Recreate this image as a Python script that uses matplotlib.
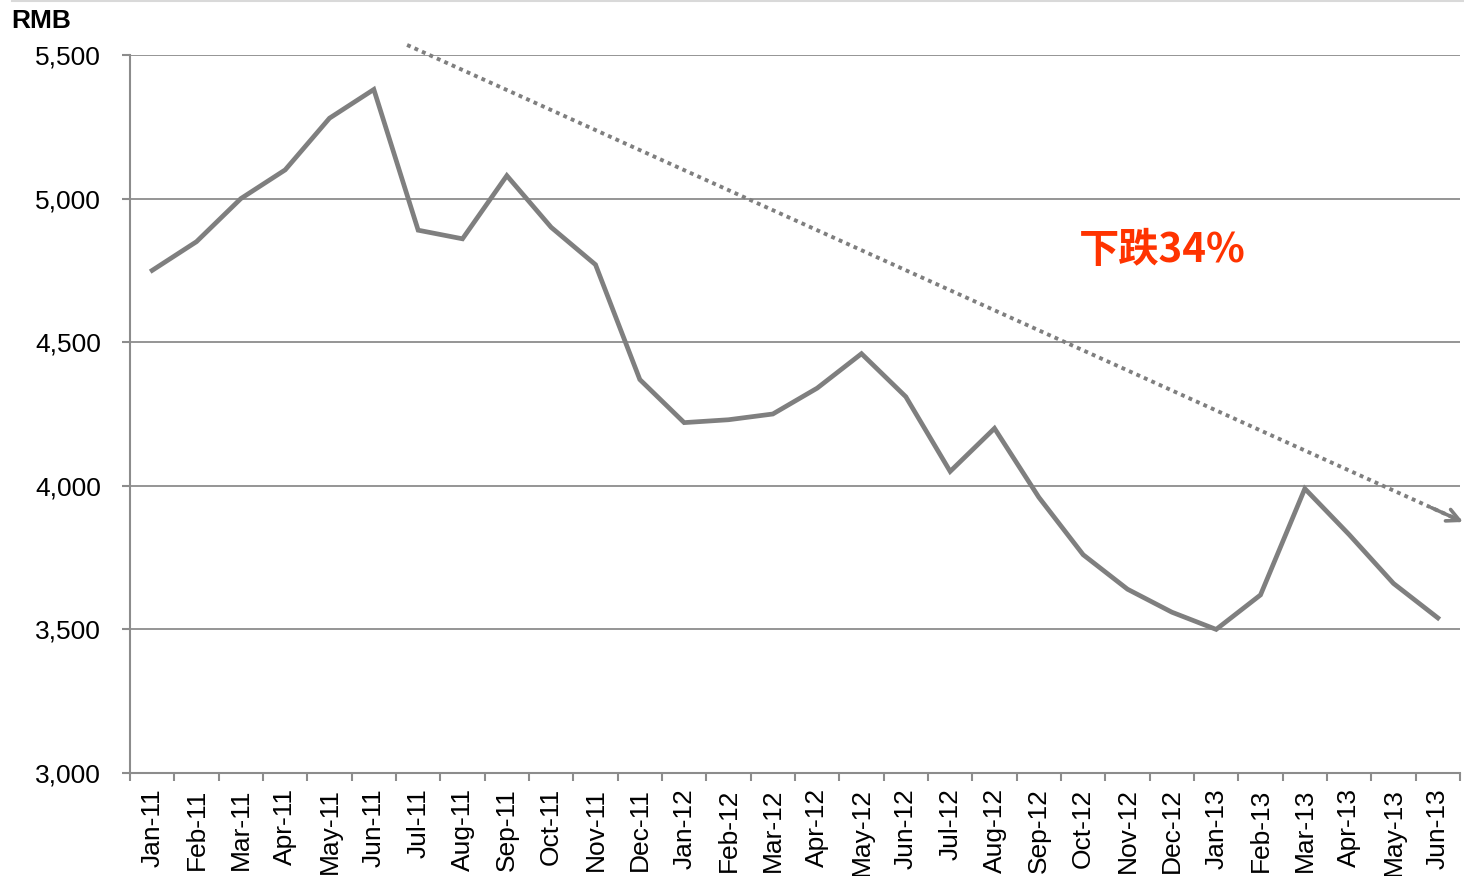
import matplotlib.pyplot as plt
from matplotlib.lines import Line2D

# Monthly price, RMB
months = ["Jan-11", "Feb-11", "Mar-11", "Apr-11", "May-11", "Jun-11",
          "Jul-11", "Aug-11", "Sep-11", "Oct-11", "Nov-11", "Dec-11",
          "Jan-12", "Feb-12", "Mar-12", "Apr-12", "May-12", "Jun-12",
          "Jul-12", "Aug-12", "Sep-12", "Oct-12", "Nov-12", "Dec-12",
          "Jan-13", "Feb-13", "Mar-13", "Apr-13", "May-13", "Jun-13"]
prices = [4750, 4850, 5000, 5100, 5280, 5380,
          4890, 4860, 5080, 4900, 4770, 4370,
          4220, 4230, 4250, 4340, 4460, 4310,
          4050, 4200, 3960, 3760, 3640, 3560,
          3500, 3620, 3990, 3830, 3660, 3540]
y_ticks = [3000, 3500, 4000, 4500, 5000, 5500]

# trend arrow endpoints (category index, RMB)
trend_x = [5.75, 29.57]
trend_y = [5535, 3874]
label_text = "下跌34%"

grey = "#7F7F7F"

fig = plt.figure(figsize=(14.64, 8.76), dpi=100)
ax = fig.add_axes([130 / 1464, 1 - 773 / 876, 1330 / 1464, 718 / 876])

x = list(range(len(months)))
ax.plot(x, prices, color=grey, lw=3.4, solid_joinstyle="miter", zorder=3)

ax.set_xlim(-0.5, len(months) - 0.5)
ax.set_ylim(3000, 5500)
ax.set_yticks(y_ticks)
ax.set_yticklabels([f"{v:,}" for v in y_ticks], family="Liberation Sans", fontsize=19)
ax.yaxis.grid(True, color="#8C8C8C", lw=1.3)
ax.set_axisbelow(True)

ax.set_xticks(x)
ax.set_xticklabels(months, rotation=90, family="Liberation Sans", fontsize=19)
ax.set_xticks([i - 0.5 for i in range(len(months) + 1)], minor=True)
ax.tick_params(axis="x", which="major", length=0, pad=11)
ax.tick_params(axis="x", which="minor", length=6, width=1.5, color="#8C8C8C")
ax.tick_params(axis="y", length=6, width=1.5, color="#8C8C8C", pad=15)

for side in ["top", "right"]:
    ax.spines[side].set_visible(False)
for side in ["left", "bottom"]:
    ax.spines[side].set_color("#8C8C8C")
    ax.spines[side].set_linewidth(1.5)

# dotted trend line with open arrow head
ax.plot(trend_x, trend_y, color=grey, lw=2.8, ls=(0, (1, 1.1)), dash_capstyle="butt",
        clip_on=False, zorder=4)
dx = trend_x[1] - trend_x[0]
dy = trend_y[1] - trend_y[0]
ax.annotate("", xy=(trend_x[1], trend_y[1]),
            xytext=(trend_x[1] - dx * 0.03, trend_y[1] - dy * 0.03),
            arrowprops=dict(arrowstyle="->,head_length=0.9,head_width=0.45",
                            color=grey, lw=2.6, shrinkA=0, shrinkB=0),
            annotation_clip=False, zorder=4)

ax.text(20.9, 4820, label_text, color="#FF3300", fontsize=29, fontweight="bold",
        family=["Noto Sans CJK SC", "DejaVu Sans"], va="center", ha="left")

fig.text(11 / 1464, 1 - 21 / 876, "RMB", family="Liberation Sans", fontsize=19,
         fontweight="bold", va="center", ha="left")
fig.add_artist(Line2D([12 / 1464, 1], [0.999, 0.999], color="#D9D9D9", lw=1.5,
                      transform=fig.transFigure))

fig.savefig("out.png", dpi=100)
